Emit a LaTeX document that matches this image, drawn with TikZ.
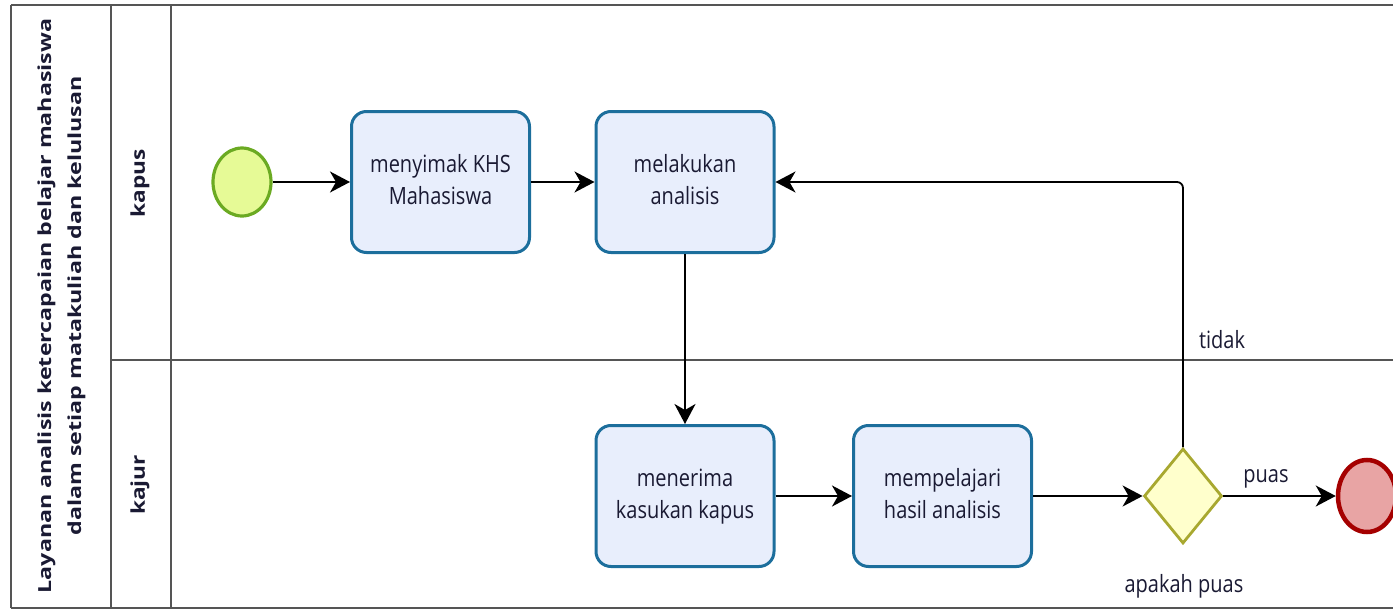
\documentclass[tikz,border=0pt]{standalone}
\usepackage{fontspec}
\setmainfont{Open Sans}
\usetikzlibrary{shapes.geometric,arrows.meta}
\definecolor{taskfill}{HTML}{E8EEFC}
\definecolor{taskline}{HTML}{1C6E9C}
\definecolor{startfill}{HTML}{E6FA96}
\definecolor{startline}{HTML}{6BAA22}
\definecolor{endfill}{HTML}{E8A4A4}
\definecolor{endline}{HTML}{A50000}
\definecolor{gwfill}{HTML}{FFFFCC}
\definecolor{gwline}{HTML}{A8A830}
\definecolor{frameline}{HTML}{555555}
\definecolor{txt}{HTML}{1A1A33}
\newcommand{\vtxt}[1]{\scalebox{1}[1.19]{\begin{tabular}{@{}c@{}}#1\end{tabular}}}
\newcommand{\htxt}[2][1.19]{\scalebox{#1}[1]{\begin{tabular}{@{}c@{}}#2\end{tabular}}}
\tikzset{
  frame/.style={draw=frameline, line width=1.6pt},
  task/.style={draw=taskline, fill=taskfill, line width=3pt, rounded corners=15pt,
    minimum width=178pt, minimum height=141pt, inner sep=0pt, text=txt,
    font=\fontsize{20}{27}\selectfont},
  startev/.style={ellipse, draw=startline, fill=startfill, line width=3.2pt,
    minimum width=58pt, minimum height=68pt, inner sep=0pt},
  endev/.style={ellipse, draw=endline, fill=endfill, line width=4.5pt,
    minimum width=58pt, minimum height=72pt, inner sep=0pt},
  gateway/.style={diamond, draw=gwline, fill=gwfill, line width=2.8pt,
    minimum width=78pt, minimum height=95pt, inner sep=0pt},
  flow/.style={draw=black, line width=1.8pt, -{Stealth[length=20pt,width=21pt,inset=6pt]}},
  lbl/.style={text=txt, font=\fontsize{20}{24}\selectfont, inner sep=0pt},
  lanelbl/.style={rotate=90, font=\bfseries\fontsize{19}{24}\selectfont, inner sep=0pt, text=txt},
}
\begin{document}
\begin{tikzpicture}[x=1pt,y=-1pt]
\useasboundingbox (0,0) rectangle (1393,610);
% pool frame
\draw[frame] (11,5) -- (1400,5);
\draw[frame] (11,608) -- (1400,608);
\draw[frame] (11,5) -- (11,608);
\draw[frame] (111,5) -- (111,608);
\draw[frame] (171,5) -- (171,608);
\draw[frame] (111,360) -- (1400,360);
% titles
\node[rotate=90, inner sep=0pt, text=txt, font=\bfseries\fontsize{18}{30}\selectfont] (title) at (60,306)
  {\htxt[1.29]{Layanan analisis ketercapaian belajar mahasiswa\\dalam setiap matakuliah dan kelulusan}};
\node[lanelbl] (lkapus) at (140,183) {\htxt{kapus}};
\node[lanelbl] (lkajur) at (140,485) {\htxt{kajur}};
% nodes
\node[startev] (S) at (242,182) {};
\node[task] (A) at (440.5,182) {\vtxt{menyimak KHS\\Mahasiswa}};
\node[task] (B) at (685,182) {\vtxt{melakukan\\analisis}};
\node[task] (C) at (685,496) {\vtxt{menerima\\kasukan kapus}};
\node[task] (D) at (942.5,496) {\vtxt{mempelajari\\hasil analisis}};
\node[gateway] (G) at (1183,496) {};
\node[endev] (E) at (1367,496) {};
% labels
\node[lbl] (ltidak) at (1222,343) {\vtxt{tidak}};
\node[lbl] (lpuas) at (1266,477) {\vtxt{puas}};
\node[lbl] (lgw) at (1184,587) {\vtxt{apakah puas}};
% flows
\draw[flow] (S) -- (A);
\draw[flow] (A) -- (B);
\draw[flow] (B) -- (C);
\draw[flow] (C) -- (D);
\draw[flow] (D) -- (G);
\draw[flow] (G) -- (E);
\draw[flow, rounded corners=6pt] (G.north) |- (B.east);
\end{tikzpicture}
\end{document}
